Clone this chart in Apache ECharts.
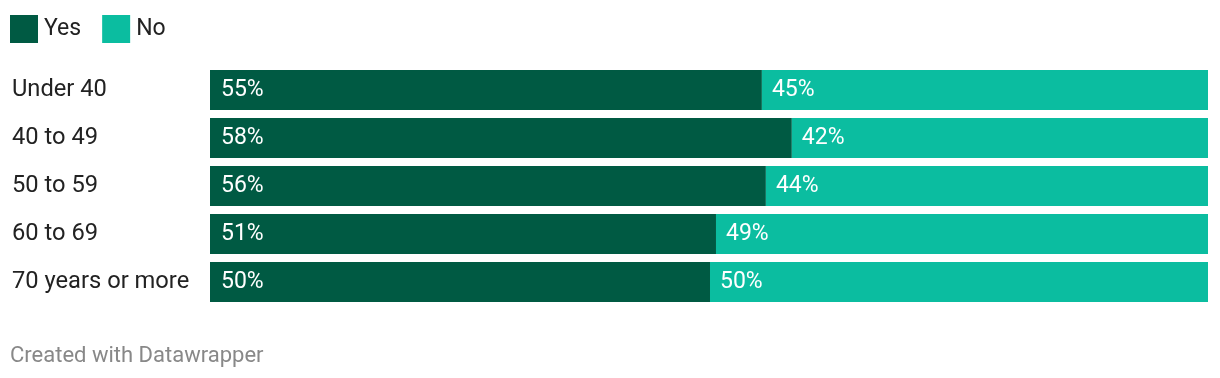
<!DOCTYPE html>
<html>
<head>
<meta charset="utf-8">
<script src="https://cdn.jsdelivr.net/npm/echarts@6/dist/echarts.min.js"></script>
<style>
    html, body { margin: 0; padding: 0; background: #fff; }
    #chart { width: 1220px; height: 378px; }
</style>
</head>
<body>
<div id="chart"></div>
<script>
    var categories = ['Under 40', '40 to 49', '50 to 59', '60 to 69', '70 years or more'];
    // shares; labels show them rounded
    var yesValues = [55.3, 58.3, 55.7, 50.7, 50.1];
    var noValues = [44.7, 41.7, 44.3, 49.3, 49.9];

    var chart = echarts.init(document.getElementById('chart'));
    var font = 'Roboto, sans-serif';

    function pct(p) {
        return Math.round(p.value) + '%';
    }

    var option = {
        animation: false,
        textStyle: { fontFamily: font },
        legend: {
            left: 10,
            top: 15,
            padding: 0,
            itemWidth: 28,
            itemHeight: 28,
            itemGap: 21,
            icon: 'rect',
            textStyle: { fontSize: 23, color: '#222', fontFamily: font, padding: [2, 0, 0, 1] },
            data: ['Yes', 'No']
        },
        grid: { left: 210, right: 12, top: 66, height: 240 },
        xAxis: { type: 'value', min: 0, max: 100, show: false },
        yAxis: {
            type: 'category',
            data: categories,
            inverse: true,
            axisLine: { show: false },
            axisTick: { show: false },
            axisLabel: {
                align: 'left',
                margin: 198,
                fontSize: 23.7,
                color: '#222',
                fontFamily: font,
                padding: [0, 0, 5, 0]
            }
        },
        series: [
            {
                name: 'Yes',
                type: 'bar',
                stack: 'all',
                barWidth: 40,
                data: yesValues,
                itemStyle: { color: '#005A43' },
                label: {
                    show: true,
                    position: 'insideLeft',
                    distance: 11,
                    formatter: pct,
                    color: '#fff',
                    fontSize: 23,
                    fontFamily: font
                }
            },
            {
                name: 'No',
                type: 'bar',
                stack: 'all',
                barWidth: 40,
                data: noValues,
                itemStyle: { color: '#0BBDA0' },
                label: {
                    show: true,
                    position: 'insideLeft',
                    distance: 10,
                    formatter: pct,
                    color: '#fff',
                    fontSize: 23,
                    fontFamily: font
                }
            }
        ],
        graphic: [
            {
                type: 'text',
                left: 10,
                top: 345,
                style: { text: 'Created with Datawrapper', fill: '#888', fontSize: 22, fontFamily: font }
            }
        ]
    };

    chart.setOption(option);
</script>
</body>
</html>
